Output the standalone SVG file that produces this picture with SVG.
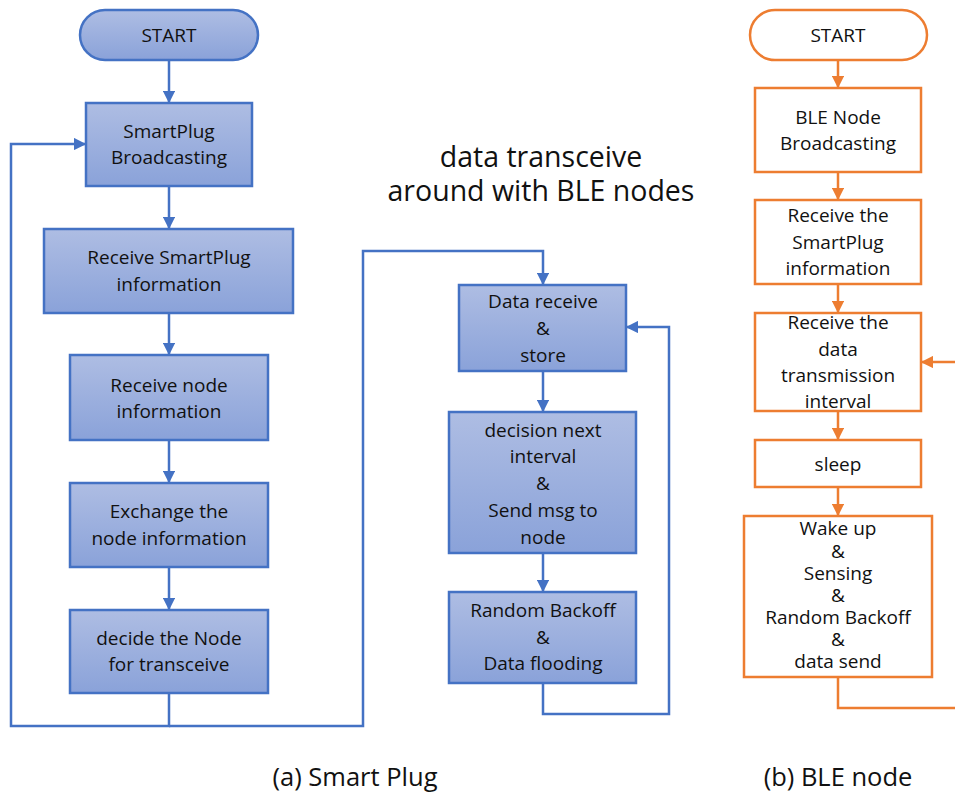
<svg xmlns="http://www.w3.org/2000/svg" width="955" height="792" viewBox="0 0 955 792">
<defs>
<linearGradient id="bg" x1="0" y1="0" x2="0" y2="1">
<stop offset="0" stop-color="#aebde3"/>
<stop offset="1" stop-color="#8aa2d9"/>
</linearGradient>
<marker id="ab" viewBox="0 0 10 10" refX="9" refY="5" markerWidth="5" markerHeight="5" orient="auto" markerUnits="strokeWidth">
<path d="M0,0 L10,5 L0,10 z" fill="#4472c4"/>
</marker>
<marker id="ao" viewBox="0 0 10 10" refX="9" refY="5" markerWidth="5" markerHeight="5" orient="auto" markerUnits="strokeWidth">
<path d="M0,0 L10,5 L0,10 z" fill="#ed7d31"/>
</marker>
</defs>
<style>
.b{fill:url(#bg);stroke:#4472c4;stroke-width:2.5}
.o{fill:#ffffff;stroke:#ed7d31;stroke-width:2.5}
.t{font-family:"Open Sans","Noto Sans",sans-serif;font-size:19px;fill:#111;text-anchor:middle;dominant-baseline:central}
.cb{fill:none;stroke:#4472c4;stroke-width:2.5}
.co{fill:none;stroke:#ed7d31;stroke-width:2.5}
.big{font-family:"Open Sans","Noto Sans",sans-serif;font-size:28.5px;fill:#111;text-anchor:middle;dominant-baseline:central}
.cap{font-family:"Open Sans","Noto Sans",sans-serif;font-size:25.5px;fill:#111;text-anchor:middle;dominant-baseline:central}
</style>
<rect width="955" height="792" fill="#ffffff"/>
<g id="connectors">
<line class="cb" x1="169" y1="60" x2="169" y2="102" marker-end="url(#ab)"/>
<line class="cb" x1="169" y1="186" x2="169" y2="228" marker-end="url(#ab)"/>
<line class="cb" x1="169" y1="313" x2="169" y2="354" marker-end="url(#ab)"/>
<line class="cb" x1="169" y1="440" x2="169" y2="482" marker-end="url(#ab)"/>
<line class="cb" x1="169" y1="567" x2="169" y2="609" marker-end="url(#ab)"/>
<polyline class="cb" points="169,693 169,726 11,726 11,144 85,144" marker-end="url(#ab)"/>
<polyline class="cb" points="169,726 363,726 363,251 543,251 543,284" marker-end="url(#ab)"/>
<line class="cb" x1="543" y1="371" x2="543" y2="411" marker-end="url(#ab)"/>
<line class="cb" x1="543" y1="553" x2="543" y2="591" marker-end="url(#ab)"/>
<polyline class="cb" points="543,683 543,714 669,714 669,327 627,327" marker-end="url(#ab)"/>
<line class="co" x1="838" y1="60" x2="838" y2="87" marker-end="url(#ao)"/>
<line class="co" x1="838" y1="172" x2="838" y2="199" marker-end="url(#ao)"/>
<line class="co" x1="838" y1="284" x2="838" y2="312" marker-end="url(#ao)"/>
<line class="co" x1="838" y1="411" x2="838" y2="439" marker-end="url(#ao)"/>
<line class="co" x1="838" y1="487" x2="838" y2="515" marker-end="url(#ao)"/>
<polyline class="co" points="838,677 838,708 956,708"/>
<line class="co" x1="956" y1="362" x2="922" y2="362" marker-end="url(#ao)"/>
</g>
<g id="sp_start"><rect class="b" x="80" y="10" width="178" height="50" rx="25"/><text class="t" x="169" y="35">START</text></g>
<g id="sp_broadcast"><rect class="b" x="86" y="103" width="166" height="83"/><text class="t" x="169" y="131">SmartPlug</text><text class="t" x="169" y="157">Broadcasting</text></g>
<g id="sp_recv_info"><rect class="b" x="44" y="229" width="249" height="84"/><text class="t" x="169" y="257">Receive SmartPlug</text><text class="t" x="169" y="284">information</text></g>
<g id="sp_recv_node"><rect class="b" x="70" y="355" width="198" height="85"/><text class="t" x="169" y="385">Receive node</text><text class="t" x="169" y="411">information</text></g>
<g id="sp_exchange"><rect class="b" x="70" y="483" width="198" height="84"/><text class="t" x="169" y="511">Exchange the</text><text class="t" x="169" y="538">node information</text></g>
<g id="sp_decide"><rect class="b" x="70" y="610" width="198" height="83"/><text class="t" x="169" y="638">decide the Node</text><text class="t" x="169" y="664">for transceive</text></g>
<g id="sp_data_recv"><rect class="b" x="459" y="285" width="167" height="86"/><text class="t" x="543" y="301">Data receive</text><text class="t" x="543" y="328">&amp;</text><text class="t" x="543" y="355">store</text></g>
<g id="sp_decision"><rect class="b" x="449" y="412" width="187" height="141"/><text class="t" x="543" y="430">decision next</text><text class="t" x="543" y="456">interval</text><text class="t" x="543" y="483">&amp;</text><text class="t" x="543" y="510">Send msg to</text><text class="t" x="543" y="537">node</text></g>
<g id="sp_backoff"><rect class="b" x="449" y="592" width="187" height="91"/><text class="t" x="543" y="610">Random Backoff</text><text class="t" x="543" y="637">&amp;</text><text class="t" x="543" y="663">Data flooding</text></g>
<g id="title"><text class="big" x="541" y="156">data transceive</text><text class="big" x="541" y="190">around with BLE nodes</text></g>
<g id="ble_start"><rect class="o" x="750" y="10" width="177" height="50" rx="25"/><text class="t" x="838" y="35">START</text></g>
<g id="ble_broadcast"><rect class="o" x="755" y="88" width="166" height="84"/><text class="t" x="838" y="117">BLE Node</text><text class="t" x="838" y="143">Broadcasting</text></g>
<g id="ble_recv_sp"><rect class="o" x="755" y="200" width="166" height="84"/><text class="t" x="838" y="215">Receive the</text><text class="t" x="838" y="242">SmartPlug</text><text class="t" x="838" y="268">information</text></g>
<g id="ble_recv_interval"><rect class="o" x="755" y="313" width="166" height="98"/><text class="t" x="838" y="322">Receive the</text><text class="t" x="838" y="349">data</text><text class="t" x="838" y="375">transmission</text><text class="t" x="838" y="401">interval</text></g>
<g id="ble_sleep"><rect class="o" x="755" y="440" width="166" height="47"/><text class="t" x="838" y="464">sleep</text></g>
<g id="ble_wake"><rect class="o" x="744" y="516" width="188" height="161"/><text class="t" x="838" y="528">Wake up</text><text class="t" x="838" y="551">&amp;</text><text class="t" x="838" y="573">Sensing</text><text class="t" x="838" y="595">&amp;</text><text class="t" x="838" y="617">Random Backoff</text><text class="t" x="838" y="639">&amp;</text><text class="t" x="838" y="661">data send</text></g>
<g id="captions"><text class="cap" x="355" y="776">(a) Smart Plug</text><text class="cap" x="838" y="776">(b) BLE node</text></g>
</svg>
